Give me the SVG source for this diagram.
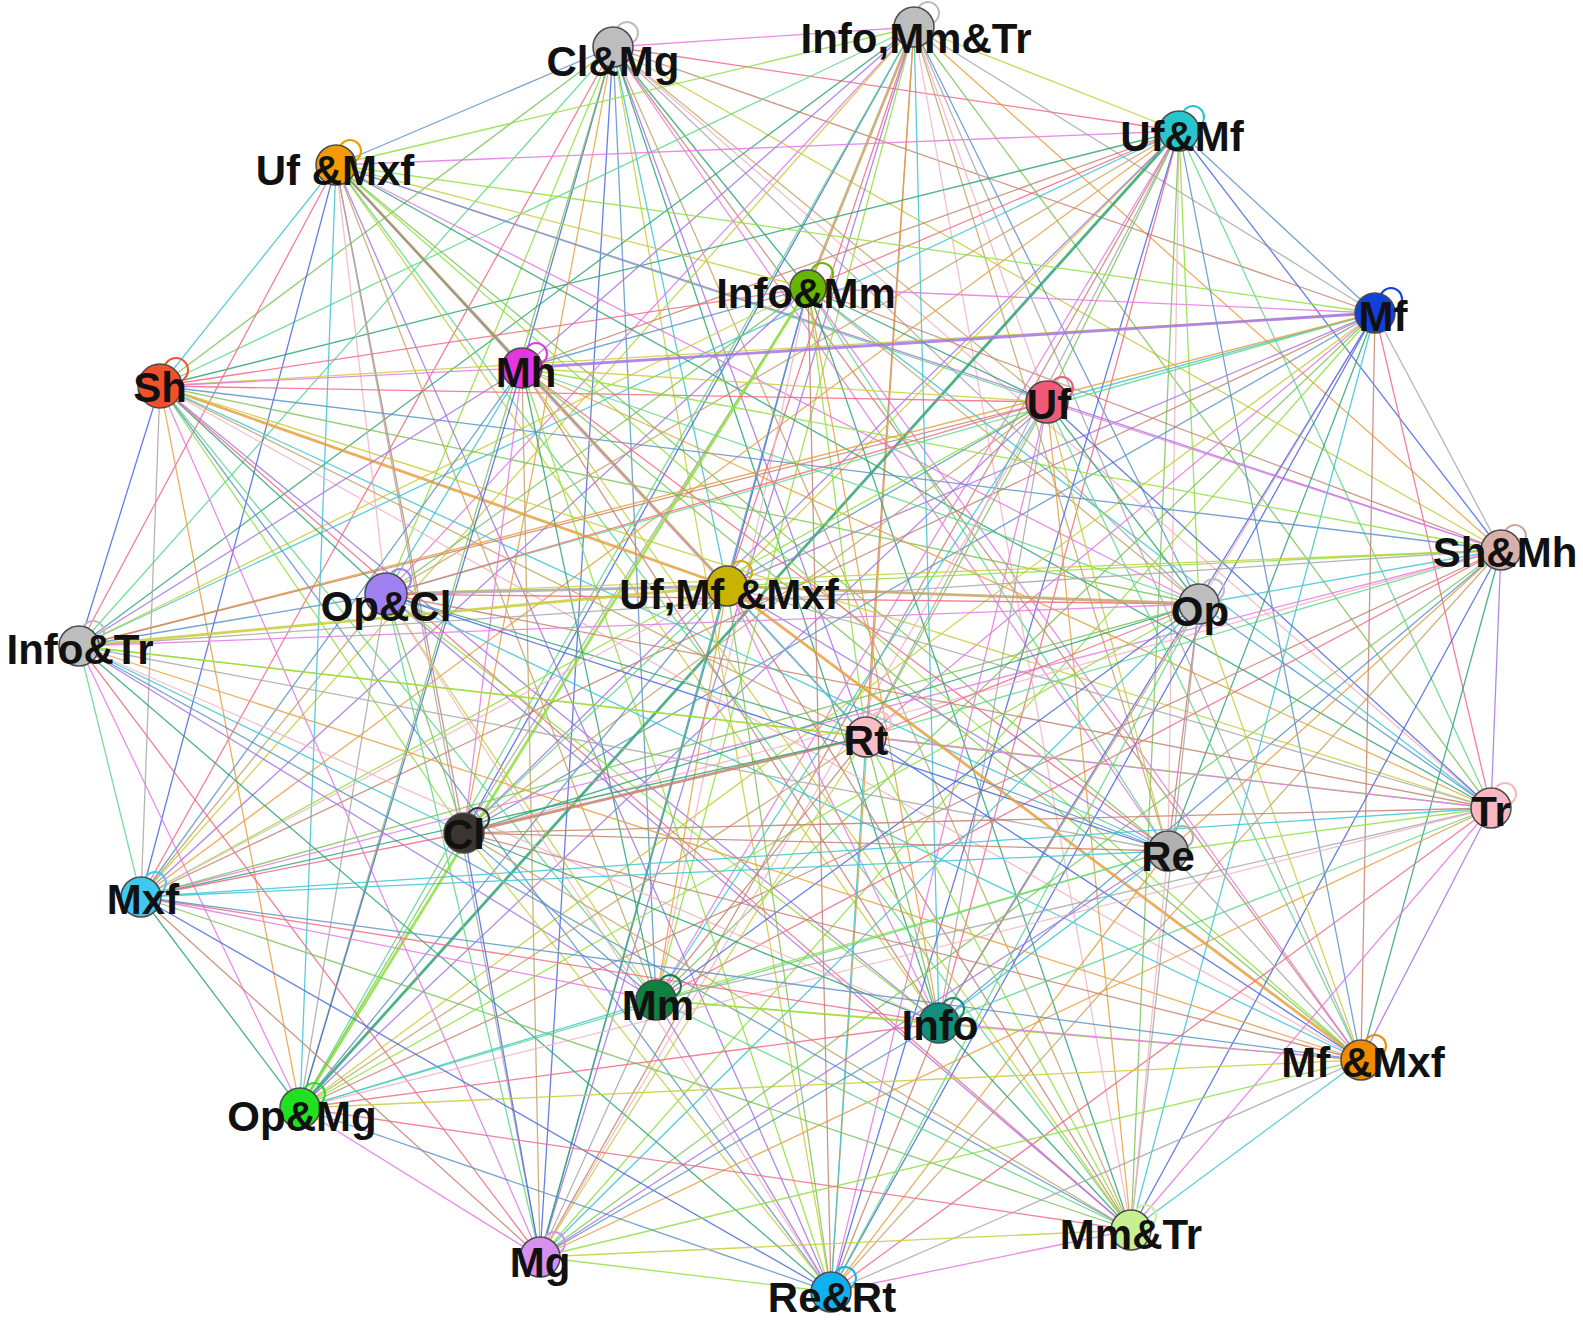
<svg xmlns="http://www.w3.org/2000/svg" width="1583" height="1322" viewBox="0 0 1583 1322">
<style>
.bg{fill:#fff}
#edges path{fill:none;stroke-width:1.3;stroke-opacity:0.85;stroke-linecap:round}
.e0{stroke:#e8a040}.e1{stroke:#3cc4d4}.e2{stroke:#7cc45c}.e3{stroke:#e47ae4}
.e4{stroke:#a8a8a8}.e5{stroke:#4a66e0}.e6{stroke:#f26a86}.e7{stroke:#5ed888}
.e8{stroke:#c4a468}.e9{stroke:#5c94c8}.e10{stroke:#a474e4}.e11{stroke:#c8cc3c}
.e12{stroke:#2ea474}.e13{stroke:#f2b4c2}.e14{stroke:#8ee03c}.e15{stroke:#c4846e}
#edges path.t{stroke-width:2.8}
.loop{fill:none;stroke-width:2}
.nd{stroke:#4a4a4a;stroke-width:1.5}
.lb{font-family:"Liberation Sans",Arial,sans-serif;font-weight:bold;font-size:42px;fill:#111;text-anchor:middle}
</style>
<rect class="bg" x="0" y="0" width="1583" height="1322"/>
<g id="edges">
<path class="e3" d="M613 47L914 27"/>
<path class="e6" d="M613 47L1179 131"/>
<path class="e9" d="M613 47L336 165"/>
<path class="e12" d="M613 47L808 288"/>
<path class="e15" d="M613 47L1375 313"/>
<path class="e2" d="M613 47L160 386"/>
<path class="e5" d="M613 47L522 368"/>
<path class="e8" d="M613 47L1047 402"/>
<path class="e11" d="M613 47L1501 550"/>
<path class="e14" d="M613 47L386 594"/>
<path class="e1" d="M613 47L727 586"/>
<path class="e4" d="M613 47L1199 604"/>
<path class="e7" d="M613 47L79 646"/>
<path class="e10" d="M613 47L866 737"/>
<path class="e13" d="M613 47L1491 808"/>
<path class="e0" d="M613 47L464 833"/>
<path class="e3" d="M613 47L1168 851"/>
<path class="e6" d="M613 47L141 897"/>
<path class="e9" d="M613 47L656 1000"/>
<path class="e12" d="M613 47L939 1023"/>
<path class="e15" d="M613 47L1361 1060"/>
<path class="e2" d="M613 47L300 1108"/>
<path class="e5" d="M613 47L540 1257"/>
<path class="e8" d="M613 47L1131 1230"/>
<path class="e11" d="M613 47L831 1292"/>
<path class="e11" d="M914 27L1179 131"/>
<path class="e14" d="M914 27L336 165"/>
<path class="e8 t" d="M914 27L808 288"/>
<path class="e4" d="M914 27L1375 313"/>
<path class="e7" d="M914 27L160 386"/>
<path class="e10" d="M914 27L522 368"/>
<path class="e13" d="M914 27L1047 402"/>
<path class="e0" d="M914 27L1501 550"/>
<path class="e3" d="M914 27L386 594"/>
<path class="e6" d="M914 27L727 586"/>
<path class="e9" d="M914 27L1199 604"/>
<path class="e12" d="M914 27L79 646"/>
<path class="e15" d="M914 27L866 737"/>
<path class="e2" d="M914 27L1491 808"/>
<path class="e5" d="M914 27L464 833"/>
<path class="e8" d="M914 27L1168 851"/>
<path class="e11" d="M914 27L141 897"/>
<path class="e14" d="M914 27L656 1000"/>
<path class="e1" d="M914 27L939 1023"/>
<path class="e4" d="M914 27L1361 1060"/>
<path class="e7" d="M914 27L300 1108"/>
<path class="e10" d="M914 27L540 1257"/>
<path class="e13" d="M914 27L1131 1230"/>
<path class="e0" d="M914 27L831 1292"/>
<path class="e3" d="M1179 131L336 165"/>
<path class="e6" d="M1179 131L808 288"/>
<path class="e9" d="M1179 131L1375 313"/>
<path class="e12" d="M1179 131L160 386"/>
<path class="e15" d="M1179 131L522 368"/>
<path class="e2" d="M1179 131L1047 402"/>
<path class="e5" d="M1179 131L1501 550"/>
<path class="e8" d="M1179 131L386 594"/>
<path class="e11" d="M1179 131L727 586"/>
<path class="e14" d="M1179 131L1199 604"/>
<path class="e1" d="M1179 131L79 646"/>
<path class="e4" d="M1179 131L866 737"/>
<path class="e7" d="M1179 131L1491 808"/>
<path class="e10" d="M1179 131L464 833"/>
<path class="e13" d="M1179 131L1168 851"/>
<path class="e0" d="M1179 131L141 897"/>
<path class="e3" d="M1179 131L656 1000"/>
<path class="e6" d="M1179 131L939 1023"/>
<path class="e9" d="M1179 131L1361 1060"/>
<path class="e12 t" d="M1179 131L300 1108"/>
<path class="e15" d="M1179 131L540 1257"/>
<path class="e2" d="M1179 131L1131 1230"/>
<path class="e5" d="M1179 131L831 1292"/>
<path class="e11" d="M336 165L808 288"/>
<path class="e14" d="M336 165L1375 313"/>
<path class="e1" d="M336 165L160 386"/>
<path class="e4" d="M336 165L522 368"/>
<path class="e7" d="M336 165L1047 402"/>
<path class="e10" d="M336 165L1501 550"/>
<path class="e13" d="M336 165L386 594"/>
<path class="e0 t" d="M336 165L727 586"/>
<path class="e3" d="M336 165L1199 604"/>
<path class="e6" d="M336 165L79 646"/>
<path class="e9" d="M336 165L866 737"/>
<path class="e12" d="M336 165L1491 808"/>
<path class="e15" d="M336 165L464 833"/>
<path class="e2" d="M336 165L1168 851"/>
<path class="e5" d="M336 165L141 897"/>
<path class="e8" d="M336 165L656 1000"/>
<path class="e11" d="M336 165L939 1023"/>
<path class="e14" d="M336 165L1361 1060"/>
<path class="e1" d="M336 165L300 1108"/>
<path class="e4" d="M336 165L540 1257"/>
<path class="e7" d="M336 165L1131 1230"/>
<path class="e10" d="M336 165L831 1292"/>
<path class="e3" d="M808 288L1375 313"/>
<path class="e6" d="M808 288L160 386"/>
<path class="e9" d="M808 288L522 368"/>
<path class="e12" d="M808 288L1047 402"/>
<path class="e15" d="M808 288L1501 550"/>
<path class="e2" d="M808 288L386 594"/>
<path class="e5" d="M808 288L727 586"/>
<path class="e8" d="M808 288L1199 604"/>
<path class="e11" d="M808 288L79 646"/>
<path class="e14" d="M808 288L866 737"/>
<path class="e1" d="M808 288L1491 808"/>
<path class="e4" d="M808 288L464 833"/>
<path class="e7" d="M808 288L1168 851"/>
<path class="e10" d="M808 288L141 897"/>
<path class="e13" d="M808 288L656 1000"/>
<path class="e0" d="M808 288L939 1023"/>
<path class="e3" d="M808 288L1361 1060"/>
<path class="e14 t" d="M808 288L300 1108"/>
<path class="e9" d="M808 288L540 1257"/>
<path class="e12" d="M808 288L1131 1230"/>
<path class="e15" d="M808 288L831 1292"/>
<path class="e11" d="M1375 313L160 386"/>
<path class="e10 t" d="M1375 313L522 368"/>
<path class="e1" d="M1375 313L1047 402"/>
<path class="e4" d="M1375 313L1501 550"/>
<path class="e7" d="M1375 313L386 594"/>
<path class="e10" d="M1375 313L727 586"/>
<path class="e13" d="M1375 313L1199 604"/>
<path class="e0" d="M1375 313L79 646"/>
<path class="e3" d="M1375 313L866 737"/>
<path class="e6" d="M1375 313L1491 808"/>
<path class="e9" d="M1375 313L464 833"/>
<path class="e12" d="M1375 313L1168 851"/>
<path class="e15" d="M1375 313L141 897"/>
<path class="e2" d="M1375 313L656 1000"/>
<path class="e5" d="M1375 313L939 1023"/>
<path class="e15" d="M1375 313L1361 1060"/>
<path class="e11" d="M1375 313L300 1108"/>
<path class="e14" d="M1375 313L540 1257"/>
<path class="e1" d="M1375 313L1131 1230"/>
<path class="e5" d="M1375 313L831 1292"/>
<path class="e3" d="M160 386L522 368"/>
<path class="e6" d="M160 386L1047 402"/>
<path class="e9" d="M160 386L1501 550"/>
<path class="e12" d="M160 386L386 594"/>
<path class="e0 t" d="M160 386L727 586"/>
<path class="e2" d="M160 386L1199 604"/>
<path class="e5" d="M160 386L79 646"/>
<path class="e8" d="M160 386L866 737"/>
<path class="e11" d="M160 386L1491 808"/>
<path class="e14" d="M160 386L464 833"/>
<path class="e1" d="M160 386L1168 851"/>
<path class="e4" d="M160 386L141 897"/>
<path class="e7" d="M160 386L656 1000"/>
<path class="e10" d="M160 386L939 1023"/>
<path class="e13" d="M160 386L1361 1060"/>
<path class="e0" d="M160 386L300 1108"/>
<path class="e3" d="M160 386L540 1257"/>
<path class="e6" d="M160 386L1131 1230"/>
<path class="e9" d="M160 386L831 1292"/>
<path class="e11" d="M522 368L1047 402"/>
<path class="e14" d="M522 368L1501 550"/>
<path class="e1" d="M522 368L386 594"/>
<path class="e4" d="M522 368L727 586"/>
<path class="e7" d="M522 368L1199 604"/>
<path class="e10" d="M522 368L79 646"/>
<path class="e13" d="M522 368L866 737"/>
<path class="e0" d="M522 368L1491 808"/>
<path class="e3" d="M522 368L464 833"/>
<path class="e6" d="M522 368L1168 851"/>
<path class="e9" d="M522 368L141 897"/>
<path class="e12" d="M522 368L656 1000"/>
<path class="e15" d="M522 368L939 1023"/>
<path class="e2" d="M522 368L1361 1060"/>
<path class="e5" d="M522 368L300 1108"/>
<path class="e8" d="M522 368L540 1257"/>
<path class="e11" d="M522 368L1131 1230"/>
<path class="e14" d="M522 368L831 1292"/>
<path class="e3" d="M1047 402L1501 550"/>
<path class="e6" d="M1047 402L386 594"/>
<path class="e9" d="M1047 402L727 586"/>
<path class="e12" d="M1047 402L1199 604"/>
<path class="e15" d="M1047 402L79 646"/>
<path class="e2" d="M1047 402L866 737"/>
<path class="e5" d="M1047 402L1491 808"/>
<path class="e8" d="M1047 402L464 833"/>
<path class="e11" d="M1047 402L1168 851"/>
<path class="e14" d="M1047 402L141 897"/>
<path class="e1" d="M1047 402L656 1000"/>
<path class="e4" d="M1047 402L939 1023"/>
<path class="e7" d="M1047 402L1361 1060"/>
<path class="e10" d="M1047 402L300 1108"/>
<path class="e13" d="M1047 402L540 1257"/>
<path class="e0" d="M1047 402L1131 1230"/>
<path class="e3" d="M1047 402L831 1292"/>
<path class="e11" d="M1501 550L386 594"/>
<path class="e14" d="M1501 550L727 586"/>
<path class="e1" d="M1501 550L1199 604"/>
<path class="e4" d="M1501 550L79 646"/>
<path class="e7" d="M1501 550L866 737"/>
<path class="e10" d="M1501 550L1491 808"/>
<path class="e13" d="M1501 550L464 833"/>
<path class="e0" d="M1501 550L1168 851"/>
<path class="e3" d="M1501 550L141 897"/>
<path class="e6" d="M1501 550L656 1000"/>
<path class="e9" d="M1501 550L939 1023"/>
<path class="e12" d="M1501 550L1361 1060"/>
<path class="e15" d="M1501 550L300 1108"/>
<path class="e2" d="M1501 550L540 1257"/>
<path class="e5" d="M1501 550L1131 1230"/>
<path class="e8" d="M1501 550L831 1292"/>
<path class="e4 t" d="M386 594L727 586"/>
<path class="e6" d="M386 594L1199 604"/>
<path class="e9" d="M386 594L79 646"/>
<path class="e12" d="M386 594L866 737"/>
<path class="e15" d="M386 594L1491 808"/>
<path class="e2" d="M386 594L464 833"/>
<path class="e5" d="M386 594L1168 851"/>
<path class="e8" d="M386 594L141 897"/>
<path class="e11" d="M386 594L656 1000"/>
<path class="e14" d="M386 594L939 1023"/>
<path class="e1" d="M386 594L1361 1060"/>
<path class="e4" d="M386 594L300 1108"/>
<path class="e7" d="M386 594L540 1257"/>
<path class="e10" d="M386 594L1131 1230"/>
<path class="e13" d="M386 594L831 1292"/>
<path class="e8 t" d="M727 586L1199 604"/>
<path class="e11 t" d="M727 586L79 646"/>
<path class="e1" d="M727 586L866 737"/>
<path class="e4" d="M727 586L1491 808"/>
<path class="e7" d="M727 586L464 833"/>
<path class="e10" d="M727 586L1168 851"/>
<path class="e13" d="M727 586L141 897"/>
<path class="e0" d="M727 586L656 1000"/>
<path class="e3" d="M727 586L939 1023"/>
<path class="e0 t" d="M727 586L1361 1060"/>
<path class="e9" d="M727 586L300 1108"/>
<path class="e12" d="M727 586L540 1257"/>
<path class="e15" d="M727 586L1131 1230"/>
<path class="e2" d="M727 586L831 1292"/>
<path class="e3" d="M1199 604L79 646"/>
<path class="e6" d="M1199 604L866 737"/>
<path class="e9" d="M1199 604L1491 808"/>
<path class="e12" d="M1199 604L464 833"/>
<path class="e15" d="M1199 604L1168 851"/>
<path class="e2" d="M1199 604L141 897"/>
<path class="e5" d="M1199 604L656 1000"/>
<path class="e8" d="M1199 604L939 1023"/>
<path class="e11" d="M1199 604L1361 1060"/>
<path class="e14" d="M1199 604L300 1108"/>
<path class="e1" d="M1199 604L540 1257"/>
<path class="e4" d="M1199 604L1131 1230"/>
<path class="e7" d="M1199 604L831 1292"/>
<path class="e11" d="M79 646L866 737"/>
<path class="e14" d="M79 646L1491 808"/>
<path class="e1" d="M79 646L464 833"/>
<path class="e4" d="M79 646L1168 851"/>
<path class="e7" d="M79 646L141 897"/>
<path class="e10" d="M79 646L656 1000"/>
<path class="e13" d="M79 646L939 1023"/>
<path class="e0" d="M79 646L1361 1060"/>
<path class="e3" d="M79 646L300 1108"/>
<path class="e6" d="M79 646L540 1257"/>
<path class="e9" d="M79 646L1131 1230"/>
<path class="e12" d="M79 646L831 1292"/>
<path class="e3" d="M866 737L1491 808"/>
<path class="e15 t" d="M866 737L464 833"/>
<path class="e9" d="M866 737L1168 851"/>
<path class="e12" d="M866 737L141 897"/>
<path class="e15" d="M866 737L656 1000"/>
<path class="e2" d="M866 737L939 1023"/>
<path class="e5" d="M866 737L1361 1060"/>
<path class="e8" d="M866 737L300 1108"/>
<path class="e11" d="M866 737L540 1257"/>
<path class="e14" d="M866 737L1131 1230"/>
<path class="e1" d="M866 737L831 1292"/>
<path class="e15" d="M1491 808L464 833"/>
<path class="e14" d="M1491 808L1168 851"/>
<path class="e1" d="M1491 808L141 897"/>
<path class="e4" d="M1491 808L656 1000"/>
<path class="e7" d="M1491 808L939 1023"/>
<path class="e10" d="M1491 808L1361 1060"/>
<path class="e13" d="M1491 808L300 1108"/>
<path class="e0" d="M1491 808L540 1257"/>
<path class="e3" d="M1491 808L1131 1230"/>
<path class="e6" d="M1491 808L831 1292"/>
<path class="e15" d="M464 833L1168 851"/>
<path class="e6" d="M464 833L141 897"/>
<path class="e9" d="M464 833L656 1000"/>
<path class="e12" d="M464 833L939 1023"/>
<path class="e15" d="M464 833L1361 1060"/>
<path class="e2" d="M464 833L300 1108"/>
<path class="e5" d="M464 833L540 1257"/>
<path class="e8" d="M464 833L1131 1230"/>
<path class="e11" d="M464 833L831 1292"/>
<path class="e1" d="M1168 851L141 897"/>
<path class="e14" d="M1168 851L656 1000"/>
<path class="e1" d="M1168 851L939 1023"/>
<path class="e4" d="M1168 851L1361 1060"/>
<path class="e7" d="M1168 851L300 1108"/>
<path class="e10" d="M1168 851L540 1257"/>
<path class="e13" d="M1168 851L1131 1230"/>
<path class="e0" d="M1168 851L831 1292"/>
<path class="e3" d="M141 897L656 1000"/>
<path class="e6" d="M141 897L939 1023"/>
<path class="e9" d="M141 897L1361 1060"/>
<path class="e12" d="M141 897L300 1108"/>
<path class="e15" d="M141 897L540 1257"/>
<path class="e2" d="M141 897L1131 1230"/>
<path class="e5" d="M141 897L831 1292"/>
<path class="e11" d="M656 1000L939 1023"/>
<path class="e14" d="M656 1000L1361 1060"/>
<path class="e1" d="M656 1000L300 1108"/>
<path class="e4" d="M656 1000L540 1257"/>
<path class="e7" d="M656 1000L1131 1230"/>
<path class="e10" d="M656 1000L831 1292"/>
<path class="e3" d="M939 1023L1361 1060"/>
<path class="e6" d="M939 1023L300 1108"/>
<path class="e9" d="M939 1023L540 1257"/>
<path class="e12" d="M939 1023L1131 1230"/>
<path class="e15" d="M939 1023L831 1292"/>
<path class="e11" d="M1361 1060L300 1108"/>
<path class="e14" d="M1361 1060L540 1257"/>
<path class="e1" d="M1361 1060L1131 1230"/>
<path class="e4" d="M1361 1060L831 1292"/>
<path class="e3" d="M300 1108L540 1257"/>
<path class="e6" d="M300 1108L1131 1230"/>
<path class="e9" d="M300 1108L831 1292"/>
<path class="e11" d="M540 1257L1131 1230"/>
<path class="e14" d="M540 1257L831 1292"/>
<path class="e3" d="M1131 1230L831 1292"/>
</g>
<g id="n-ClMg"><circle class="loop" cx="627" cy="33" r="11" stroke="#bdbdbd"/><circle class="nd" cx="613" cy="47" r="20" fill="#bdbdbd"/><text class="lb" x="613" y="76">Cl&amp;Mg</text></g>
<g id="n-InfoMmTr"><circle class="loop" cx="928" cy="13" r="11" stroke="#bdbdbd"/><circle class="nd" cx="914" cy="27" r="20" fill="#bdbdbd"/><text class="lb" x="916" y="53">Info,Mm&amp;Tr</text></g>
<g id="n-UfMf"><circle class="loop" cx="1193" cy="117" r="11" stroke="#26c6cc"/><circle class="nd" cx="1179" cy="131" r="20" fill="#26c6cc"/><text class="lb" x="1182" y="151">Uf&amp;Mf</text></g>
<g id="n-UfMxf"><circle class="loop" cx="350" cy="151" r="11" stroke="#f29a00"/><circle class="nd" cx="336" cy="165" r="20" fill="#f29a00"/><text class="lb" x="335" y="185">Uf &amp;Mxf</text></g>
<g id="n-InfoMm"><circle class="loop" cx="822" cy="274" r="11" stroke="#66b500"/><circle class="nd" cx="808" cy="288" r="18" fill="#66b500"/><text class="lb" x="806" y="308">Info&amp;Mm</text></g>
<g id="n-Mf"><circle class="loop" cx="1391" cy="299" r="11" stroke="#1040e0"/><circle class="nd" cx="1375" cy="313" r="20" fill="#1040e0"/><text class="lb" x="1383" y="331">Mf</text></g>
<g id="n-Sh"><circle class="loop" cx="176" cy="370" r="12" stroke="#f0502a"/><circle class="nd" cx="160" cy="386" r="22" fill="#f0502a"/><text class="lb" x="160" y="402">Sh</text></g>
<g id="n-Mh"><circle class="loop" cx="536" cy="354" r="11" stroke="#e535e0"/><circle class="nd" cx="522" cy="368" r="20" fill="#e535e0"/><text class="lb" x="526" y="387">Mh</text></g>
<g id="n-Uf"><circle class="loop" cx="1062" cy="388" r="11" stroke="#f05a7a"/><circle class="nd" cx="1047" cy="402" r="21" fill="#f05a7a"/><text class="lb" x="1049" y="419">Uf</text></g>
<g id="n-ShMh"><circle class="loop" cx="1515" cy="536" r="11" stroke="#c8a8a0"/><circle class="nd" cx="1501" cy="550" r="20" fill="#d8b0a8"/><text class="lb" x="1505" y="567">Sh&amp;Mh</text></g>
<g id="n-OpCl"><circle class="loop" cx="400" cy="580" r="11" stroke="#a080f0"/><circle class="nd" cx="386" cy="594" r="21" fill="#a080f0"/><text class="lb" x="386" y="621">Op&amp;Cl</text></g>
<g id="n-UfMfMxf"><circle class="loop" cx="741" cy="572" r="11" stroke="#c8b400"/><circle class="nd" cx="727" cy="586" r="20" fill="#c8b400"/><text class="lb" x="729" y="609">Uf,Mf &amp;Mxf</text></g>
<g id="n-Op"><circle class="loop" cx="1213" cy="590" r="11" stroke="#bdbdbd"/><circle class="nd" cx="1199" cy="604" r="20" fill="#bdbdbd"/><text class="lb" x="1200" y="626">Op</text></g>
<g id="n-InfoTr"><circle class="loop" cx="93" cy="632" r="11" stroke="#bdbdbd"/><circle class="nd" cx="79" cy="646" r="20" fill="#bdbdbd"/><text class="lb" x="80" y="664">Info&amp;Tr</text></g>
<g id="n-Rt"><circle class="loop" cx="880" cy="723" r="11" stroke="#f7bcc4"/><circle class="nd" cx="866" cy="737" r="20" fill="#f7bcc4"/><text class="lb" x="866" y="755">Rt</text></g>
<g id="n-Tr"><circle class="loop" cx="1505" cy="794" r="11" stroke="#f7b8c0"/><circle class="nd" cx="1491" cy="808" r="20" fill="#f7b8c0"/><text class="lb" x="1491" y="826">Tr</text></g>
<g id="n-Cl"><circle class="loop" cx="478" cy="819" r="11" stroke="#3a3530"/><circle class="nd" cx="464" cy="833" r="20" fill="#3a3530"/><text class="lb" x="464" y="849">Cl</text></g>
<g id="n-Re"><circle class="loop" cx="1182" cy="837" r="11" stroke="#b0b0b0"/><circle class="nd" cx="1168" cy="851" r="20" fill="#b0b0b0"/><text class="lb" x="1168" y="871">Re</text></g>
<g id="n-Mxf"><circle class="loop" cx="155" cy="883" r="11" stroke="#40c8f0"/><circle class="nd" cx="141" cy="897" r="20" fill="#40c8f0"/><text class="lb" x="143" y="914">Mxf</text></g>
<g id="n-Mm"><circle class="loop" cx="670" cy="986" r="11" stroke="#108040"/><circle class="nd" cx="656" cy="1000" r="20" fill="#108040"/><text class="lb" x="658" y="1020">Mm</text></g>
<g id="n-Info"><circle class="loop" cx="953" cy="1009" r="11" stroke="#10907a"/><circle class="nd" cx="939" cy="1023" r="20" fill="#10907a"/><text class="lb" x="940" y="1040">Info</text></g>
<g id="n-MfMxf"><circle class="loop" cx="1375" cy="1046" r="11" stroke="#f08a00"/><circle class="nd" cx="1361" cy="1060" r="20" fill="#f08a00"/><text class="lb" x="1363" y="1077">Mf &amp;Mxf</text></g>
<g id="n-OpMg"><circle class="loop" cx="314" cy="1094" r="11" stroke="#20e020"/><circle class="nd" cx="300" cy="1108" r="20" fill="#20e020"/><text class="lb" x="302" y="1131">Op&amp;Mg</text></g>
<g id="n-Mg"><circle class="loop" cx="554" cy="1243" r="11" stroke="#d890f0"/><circle class="nd" cx="540" cy="1257" r="20" fill="#d890f0"/><text class="lb" x="540" y="1277">Mg</text></g>
<g id="n-MmTr"><circle class="loop" cx="1145" cy="1216" r="11" stroke="#c8f090"/><circle class="nd" cx="1131" cy="1230" r="20" fill="#c8f090"/><text class="lb" x="1131" y="1249">Mm&amp;Tr</text></g>
<g id="n-ReRt"><circle class="loop" cx="845" cy="1278" r="11" stroke="#10b0f0"/><circle class="nd" cx="831" cy="1292" r="20" fill="#10b0f0"/><text class="lb" x="832" y="1312">Re&amp;Rt</text></g>
</svg>
